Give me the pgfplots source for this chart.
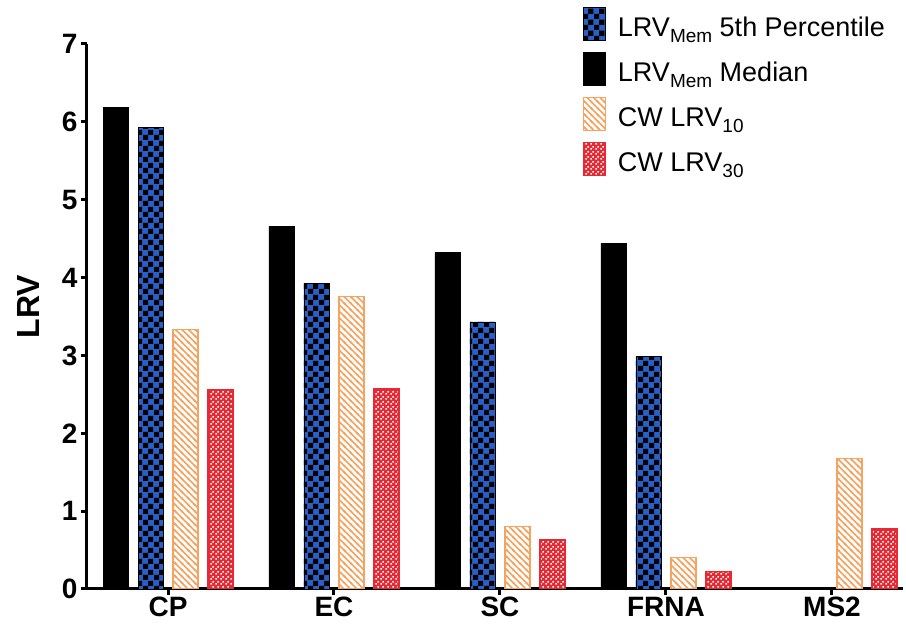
\documentclass[border=0pt]{standalone}
\usepackage{pgfplots}
\pgfplotsset{compat=1.18}
\usepackage{fontspec}
\setmainfont{Liberation Sans}
\usetikzlibrary{patterns}

\definecolor{cblue}{RGB}{38,96,200}
\definecolor{corange}{RGB}{244,164,96}
\definecolor{cred}{RGB}{232,40,50}

\pgfdeclarepatternformonly{mychecker}{\pgfpointorigin}{\pgfpoint{11pt}{11pt}}{\pgfpoint{11pt}{11pt}}{%
  \pgfpathrectangle{\pgfpointorigin}{\pgfpoint{5.5pt}{5.5pt}}%
  \pgfpathrectangle{\pgfpoint{5.5pt}{5.5pt}}{\pgfpoint{5.5pt}{5.5pt}}%
  \pgfusepath{fill}}

\pgfdeclarepatternformonly{mystripes}{\pgfpoint{-1pt}{-1pt}}{\pgfpoint{7pt}{7pt}}{\pgfpoint{6.5pt}{6.5pt}}{%
  \pgfsetlinewidth{1.7pt}%
  \pgfpathmoveto{\pgfpoint{0pt}{6.5pt}}\pgfpathlineto{\pgfpoint{6.5pt}{0pt}}%
  \pgfpathmoveto{\pgfpoint{-1pt}{1pt}}\pgfpathlineto{\pgfpoint{1pt}{-1pt}}%
  \pgfpathmoveto{\pgfpoint{5.5pt}{7.5pt}}\pgfpathlineto{\pgfpoint{7.5pt}{5.5pt}}%
  \pgfusepath{stroke}}

\pgfdeclarepatternformonly{mydots}{\pgfpointorigin}{\pgfpoint{5pt}{5pt}}{\pgfpoint{5pt}{5pt}}{%
  \pgfpathrectangle{\pgfpoint{0.4pt}{0.4pt}}{\pgfpoint{1.7pt}{1.7pt}}%
  \pgfpathrectangle{\pgfpoint{2.9pt}{2.9pt}}{\pgfpoint{1.7pt}{1.7pt}}%
  \pgfusepath{fill}}

\newcommand{\sub}[1]{\raisebox{-6pt}{\fontsize{19}{20}\selectfont #1}}

\begin{document}
\begin{tikzpicture}
\begin{axis}[
  scale only axis,
  width=816pt, height=545pt,
  xmin=-0.488, xmax=4.428,
  ymin=0, ymax=7,
  enlargelimits=false,
  axis lines=left,
  axis line style={line width=3pt, -},
  every tick/.style={line width=3pt, black},
  tick align=outside,
  major tick length=6pt,
  xtick={0,1,2,3,4},
  xticklabels={CP,EC,SC,FRNA,MS2},
  ytick={0,1,2,3,4,5,6,7},
  /pgf/number format/assume math mode=true,
  xticklabel style={font=\fontsize{28}{30}\selectfont\bfseries, inner sep=2pt},
  yticklabel style={font=\fontsize{28}{30}\selectfont\bfseries},
  ylabel={LRV},
  ylabel style={font=\fontsize{32}{34}\selectfont\bfseries, at={(axis description cs:-0.0723,0.518)}, anchor=center},
  ybar, bar width=25pt,
  legend cell align=left,
  legend image code/.code={\draw[#1, line width=1pt] (0pt,-10pt) rectangle (22pt,23pt);},
  legend style={at={(axis description cs:0.6078,1.068)}, anchor=north west, draw=none, fill=none,
    inner sep=0pt, outer sep=0pt, row sep=5pt, column sep=12pt,
    nodes={inner sep=0pt, text height=23pt, text depth=10pt, font=\fontsize{27}{28}\selectfont}},
]
\addplot[bar shift=-17.5pt, draw=black, fill=cblue, postaction={pattern=mychecker, pattern color=black}]
  coordinates {(0,5.93) (1,3.93) (2,3.43) (3,2.99)};
\addlegendentry{LRV\sub{Mem} 5th Percentile}
\addplot[bar shift=-52.5pt, draw=black, fill=black]
  coordinates {(0,6.19) (1,4.66) (2,4.32) (3,4.44)};
\addlegendentry{LRV\sub{Mem} Median}
\addplot[bar shift=17.5pt, draw=corange, line width=1.2pt, fill=white, postaction={pattern=mystripes, pattern color=corange}]
  coordinates {(0,3.33) (1,3.76) (2,0.80) (3,0.40) (4,1.68)};
\addlegendentry{CW LRV\sub{10}}
\addplot[bar shift=52.5pt, draw=cred, line width=1.2pt, fill=cred, postaction={pattern=mydots, pattern color=white}]
  coordinates {(0,2.56) (1,2.57) (2,0.64) (3,0.22) (4,0.77)};
\addlegendentry{CW LRV\sub{30}}
\coordinate (bl) at (rel axis cs:0,0);
\coordinate (tr) at (rel axis cs:1,1);
\end{axis}
\pgfresetboundingbox
\path ([shift={(-87pt,-46pt)}]bl) rectangle ([shift={(3pt,44pt)}]tr);
\end{tikzpicture}
\end{document}
